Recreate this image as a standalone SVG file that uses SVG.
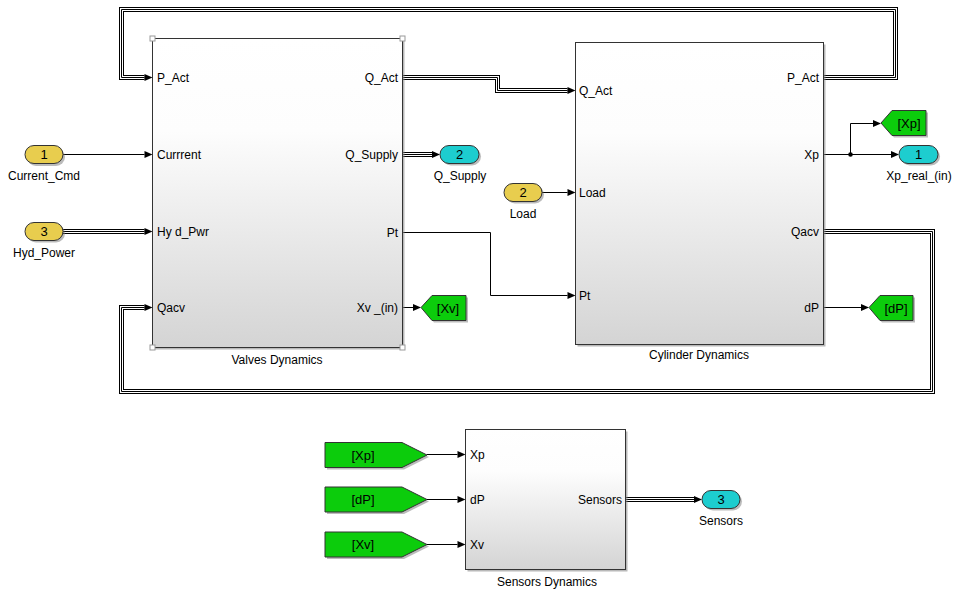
<svg xmlns="http://www.w3.org/2000/svg" width="958" height="593" viewBox="0 0 958 593">
<defs>
  <linearGradient id="blk" x1="0" y1="0" x2="0" y2="1">
    <stop offset="0" stop-color="#ffffff"/>
    <stop offset="0.3" stop-color="#fdfdfd"/>
    <stop offset="1" stop-color="#d4d4d4"/>
  </linearGradient>
  <marker id="ar" markerUnits="userSpaceOnUse" markerWidth="9" markerHeight="8" refX="0" refY="4" orient="auto" overflow="visible">
    <path d="M0,0.5 L8,4 L0,7.5 z" fill="#000"/>
  </marker>
  <path id="busTop" d="M823.5,77.5 H895.5 V9.5 H121.5 V77.5 H144.5"/>
  <path id="busQact" d="M402.5,77.5 H497.5 V90.5 H567.5"/>
  <path id="busQsup" d="M402.5,154.5 H432"/>
  <path id="busHyd" d="M63,231.5 H144.5"/>
  <path id="busQacv" d="M823.5,231.5 H932.5 V391.5 H121.5 V307.5 H144.5"/>
  <path id="busSens" d="M625.5,499.5 H694"/>
</defs>
<style>
  text { font-family: "Liberation Sans", Arial, sans-serif; font-size: 12px; fill: #000; }
  .tt { font-size: 13px; }
  .blk { fill: url(#blk); stroke: #333; stroke-width: 1; }
  .shadow { fill: #8a8a8a; opacity: 0.6; }
  .sig { fill: none; stroke: #000; stroke-width: 1; }
  .b1 { fill: none; stroke: #000; stroke-width: 5; }
  .b2 { fill: none; stroke: #fff; stroke-width: 3; }
  .b3 { fill: none; stroke: #000; stroke-width: 1; }
  .inport { fill: #e8cd4e; stroke: #333; stroke-width: 1; }
  .outport { fill: #1dcdcf; stroke: #333; stroke-width: 1; }
  .tag { fill: #0ccc0c; stroke: #333; stroke-width: 1; }
  .tagsh { fill: #777; opacity: 0.5; }
  .handle { fill: #fff; stroke: #999; stroke-width: 1; }
  .mid { text-anchor: middle; }
  .end { text-anchor: end; }
</style>

<g id="connectors">
  <use href="#busTop" class="b1"/><use href="#busTop" class="b2"/><use href="#busTop" class="b3" marker-end="url(#ar)"/>
  <use href="#busQact" class="b1"/><use href="#busQact" class="b2"/><use href="#busQact" class="b3" marker-end="url(#ar)"/>
  <use href="#busQsup" class="b1"/><use href="#busQsup" class="b2"/><use href="#busQsup" class="b3" marker-end="url(#ar)"/>
  <use href="#busHyd" class="b1"/><use href="#busHyd" class="b2"/><use href="#busHyd" class="b3" marker-end="url(#ar)"/>
  <use href="#busQacv" class="b1"/><use href="#busQacv" class="b2"/><use href="#busQacv" class="b3" marker-end="url(#ar)"/>
  <use href="#busSens" class="b1"/><use href="#busSens" class="b2"/><use href="#busSens" class="b3" marker-end="url(#ar)"/>
  <path class="sig" d="M63,154.5 H144.5" marker-end="url(#ar)"/>
  <path class="sig" d="M402.5,232.5 H490.5 V295.5 H567.5" marker-end="url(#ar)"/>
  <path class="sig" d="M542,192.5 H567.5" marker-end="url(#ar)"/>
  <path class="sig" d="M402.5,307.5 H413" marker-end="url(#ar)"/>
  <path class="sig" d="M823.5,307.5 H861" marker-end="url(#ar)"/>
  <path class="sig" d="M823.5,154.5 H891" marker-end="url(#ar)"/>
  <path class="sig" d="M850.5,154.5 V123.5 H873" marker-end="url(#ar)"/>
  <circle cx="850.5" cy="154.5" r="2.3" fill="#000"/>
  <path class="sig" d="M427,454.5 H457.5" marker-end="url(#ar)"/>
  <path class="sig" d="M427,499.5 H457.5" marker-end="url(#ar)"/>
  <path class="sig" d="M427,544.5 H457.5" marker-end="url(#ar)"/>
</g>

<g id="valves">
  <rect class="shadow" x="154.5" y="40.5" width="250" height="309"/>
  <rect class="blk" x="152.5" y="38.5" width="250" height="309"/>
  <rect class="handle" x="150" y="36" width="5" height="5"/>
  <rect class="handle" x="400" y="36" width="5" height="5"/>
  <rect class="handle" x="150" y="345" width="5" height="5"/>
  <rect class="handle" x="400" y="345" width="5" height="5"/>
  <text x="157" y="81.5">P_Act</text>
  <text x="157" y="158.5">Currrent</text>
  <text x="157" y="235.5">Hy d_Pwr</text>
  <text x="157" y="311.5">Qacv</text>
  <text class="end" x="398" y="81.5">Q_Act</text>
  <text class="end" x="398" y="158.5">Q_Supply</text>
  <text class="end" x="398" y="236.5">Pt</text>
  <text class="end" x="398" y="311.5">Xv _(in)</text>
  <text class="mid" x="277" y="364">Valves Dynamics</text>
</g>

<g id="cylinder">
  <rect class="shadow" x="577.5" y="44.5" width="248" height="302"/>
  <rect class="blk" x="575.5" y="42.5" width="248" height="302"/>
  <text x="579" y="94.5">Q_Act</text>
  <text x="579" y="196.5">Load</text>
  <text x="579" y="299.5">Pt</text>
  <text class="end" x="819" y="81.5">P_Act</text>
  <text class="end" x="819" y="158.5">Xp</text>
  <text class="end" x="819" y="235.5">Qacv</text>
  <text class="end" x="819" y="311.5">dP</text>
  <text class="mid" x="699" y="359">Cylinder Dynamics</text>
</g>

<g id="sensors">
  <rect class="shadow" x="467.5" y="431.5" width="160" height="140"/>
  <rect class="blk" x="465.5" y="429.5" width="160" height="140"/>
  <text x="470" y="458.5">Xp</text>
  <text x="470" y="503.5">dP</text>
  <text x="470" y="548.5">Xv</text>
  <text class="end" x="622" y="503.5">Sensors</text>
  <text class="mid" x="547" y="586">Sensors Dynamics</text>
</g>

<g id="in_current_cmd">
  <rect class="tagsh" x="27" y="148" width="38" height="18" rx="9"/>
  <rect class="inport" x="25" y="145.5" width="38" height="18" rx="9"/>
  <text class="mid tt" x="44" y="159">1</text>
  <text class="mid" x="44" y="180">Current_Cmd</text>
</g>
<g id="in_hyd_power">
  <rect class="tagsh" x="27" y="224.5" width="38" height="18" rx="9"/>
  <rect class="inport" x="25" y="222.5" width="38" height="18" rx="9"/>
  <text class="mid tt" x="44" y="236">3</text>
  <text class="mid" x="44" y="257">Hyd_Power</text>
</g>
<g id="in_load">
  <rect class="tagsh" x="506" y="185.5" width="38" height="18" rx="9"/>
  <rect class="inport" x="504" y="183.5" width="38" height="18" rx="9"/>
  <text class="mid tt" x="523" y="197">2</text>
  <text class="mid" x="523" y="217.5">Load</text>
</g>

<g id="out_q_supply">
  <rect class="tagsh" x="442" y="147.5" width="39" height="18" rx="9"/>
  <rect class="outport" x="440" y="145.5" width="39" height="18" rx="9"/>
  <text class="mid tt" x="459.5" y="159">2</text>
  <text class="mid" x="460" y="180">Q_Supply</text>
</g>
<g id="out_xp_real">
  <rect class="tagsh" x="901" y="147.5" width="39" height="18" rx="9"/>
  <rect class="outport" x="899" y="145.5" width="39" height="18" rx="9"/>
  <text class="mid tt" x="918.5" y="159">1</text>
  <text class="mid" x="919" y="180">Xp_real_(in)</text>
</g>
<g id="out_sensors">
  <rect class="tagsh" x="704" y="492.5" width="38" height="18" rx="9"/>
  <rect class="outport" x="702" y="490.5" width="38" height="18" rx="9"/>
  <text class="mid tt" x="721" y="504">3</text>
  <text class="mid" x="721" y="524.5">Sensors</text>
</g>

<g id="goto_xv">
  <polygon class="tagsh" points="423,309.5 434,297.5 468,297.5 468,322.5 434,322.5"/>
  <polygon class="tag" points="421,307.5 432,295.5 466,295.5 466,320.5 432,320.5"/>
  <text class="mid tt" x="448" y="312.5">[Xv]</text>
</g>
<g id="goto_xp">
  <polygon class="tagsh" points="883,125 894,112.5 928,112.5 928,137.5 894,137.5"/>
  <polygon class="tag" points="881,123 892,110.5 926,110.5 926,135.5 892,135.5"/>
  <text class="mid tt" x="909" y="128">[Xp]</text>
</g>
<g id="goto_dp">
  <polygon class="tagsh" points="871,309.5 882,297.5 915,297.5 915,322.5 882,322.5"/>
  <polygon class="tag" points="869,307.5 880,295.5 913,295.5 913,320.5 880,320.5"/>
  <text class="mid tt" x="896" y="312.5">[dP]</text>
</g>

<g id="from_xp">
  <polygon class="tagsh" points="327,444.5 404,444.5 429,457 404,469.5 327,469.5"/>
  <polygon class="tag" points="325,442.5 402,442.5 427,455 402,467.5 325,467.5"/>
  <text class="mid tt" x="363" y="459.5">[Xp]</text>
</g>
<g id="from_dp">
  <polygon class="tagsh" points="327,489 404,489 429,501.5 404,514 327,514"/>
  <polygon class="tag" points="325,487 402,487 427,499.5 402,512 325,512"/>
  <text class="mid tt" x="363" y="504">[dP]</text>
</g>
<g id="from_xv">
  <polygon class="tagsh" points="327,534 404,534 429,546.5 404,559 327,559"/>
  <polygon class="tag" points="325,532 402,532 427,544.5 402,557 325,557"/>
  <text class="mid tt" x="363" y="549">[Xv]</text>
</g>
</svg>
